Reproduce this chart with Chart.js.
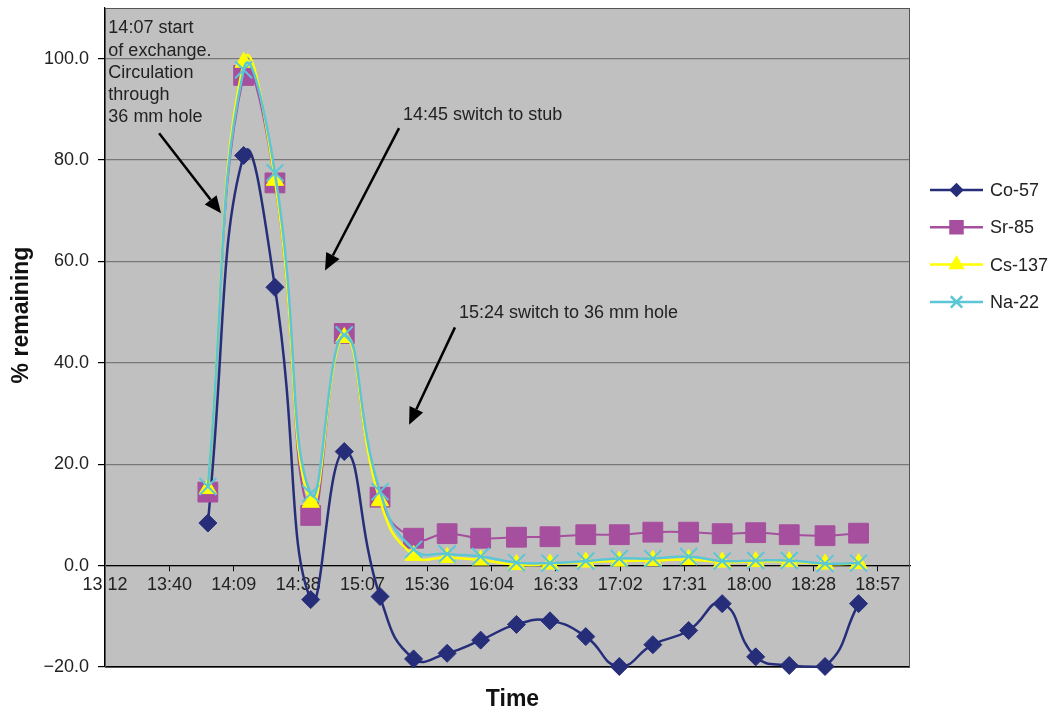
<!DOCTYPE html>
<html>
<head>
<meta charset="utf-8">
<script src="https://cdn.jsdelivr.net/npm/chart.js@4.4.1/dist/chart.umd.min.js"></script>
<style>
  html, body { margin: 0; padding: 0; background: #fff; }
  #wrap { width: 1051px; height: 713px; }
</style>
</head>
<body>
<div id="wrap"><canvas id="chart"></canvas></div>
<script>
// sample times (h:mm) and % remaining per isotope
const sampleTimes = ["13:58", "14:14", "14:28", "14:44", "14:59", "15:15", "15:30", "15:45", "16:00", "16:16",
                     "16:31", "16:47", "17:02", "17:17", "17:33", "17:48", "18:03", "18:18", "18:34", "18:49"];
const co57 = [8.4, 80.9, 54.9, -6.7, 22.5, -6.1, -18.4, -17.3, -14.7, -11.6,
              -10.9, -14.0, -19.9, -15.6, -12.8, -7.5, -18.0, -19.7, -19.9, -7.5];
const sr85 = [14.5, 96.7, 75.5, 9.9, 45.8, 13.5, 5.4, 6.3, 5.4, 5.6,
              5.7, 6.1, 6.1, 6.6, 6.6, 6.3, 6.5, 6.1, 5.9, 6.4];
const cs137 = [15.2, 99.3, 76.0, 12.5, 45.0, 12.8, 2.0, 1.6, 1.1, 0.2,
               0.3, 0.7, 0.9, 1.0, 1.2, 0.7, 0.8, 0.8, 0.3, 0.4];
const na22 = [15.6, 97.8, 77.5, 14.2, 45.5, 14.6, 3.2, 2.3, 1.8, 0.6,
              0.5, 0.9, 1.4, 1.4, 1.8, 0.9, 1.0, 1.0, 0.4, 0.5];

const xTickLabels = ["13:12", "13:40", "14:09", "14:38", "15:07", "15:36", "16:04",
                     "16:33", "17:02", "17:31", "18:00", "18:28", "18:57"];
const yTickValues = [-20, 0, 20, 40, 60, 80, 100];

const FONT = 'Arial, "Liberation Sans", Helvetica, sans-serif';
const X_MIN = 792;     // 13:12 in minutes
const X_STEP = 28.8;   // Excel major unit 0.02 day
const X_MAX = 1152;    // 19:12

function toMinutes(hhmm) {
    const [h, m] = hhmm.split(":").map(Number);
    return h * 60 + m;
}

function series(values) {
    return values.map((v, i) => ({ x: toMinutes(sampleTimes[i]), y: v }));
}

// annotation text + arrows, anchored in data units
const notes = [
    { lines: ["14:07 start", "of exchange.", "Circulation", "through", "36 mm hole"], x: 793.5, y: 106 },
    { lines: ["14:45 switch to stub"], x: 925.3, y: 88.8 },
    { lines: ["15:24 switch to 36 mm hole"], x: 950.3, y: 49.8 }
];
const arrows = [
    { from: [816.2, 85.3], to: [843.9, 69.5] },
    { from: [923.5, 86.3], to: [890.4, 58.2] },
    { from: [948.5, 47.0], to: [928.0, 27.8] }
];

Chart.defaults.font.family = FONT;
Chart.defaults.font.size = 18;
Chart.defaults.color = "#222";

const plotBackground = {
    id: "plotBackground",
    beforeDraw(chart) {
        const { ctx, chartArea: a } = chart;
        ctx.save();
        ctx.fillStyle = "#C0C0C0";
        ctx.fillRect(a.left, a.top, a.right - a.left, a.bottom - a.top);
        ctx.restore();
    },
    beforeDatasetsDraw(chart) {
        const { ctx, chartArea: a } = chart;
        ctx.save();
        ctx.strokeStyle = "#555";
        ctx.lineWidth = 1;
        ctx.strokeRect(a.left + 0.5, a.top + 0.5, a.right - a.left - 1, a.bottom - a.top);
        ctx.restore();
    }
};

const notesPlugin = {
    id: "notesPlugin",
    afterDatasetsDraw(chart) {
        const { ctx, scales: { x, y } } = chart;
        ctx.save();
        ctx.fillStyle = "#222";
        ctx.font = "18px " + FONT;
        ctx.textAlign = "left";
        ctx.textBaseline = "middle";
        notes.forEach(n => {
            const px = x.getPixelForValue(n.x);
            const py = y.getPixelForValue(n.y);
            n.lines.forEach((line, i) => ctx.fillText(line, px, py + i * 22.3));
        });

        ctx.strokeStyle = "#000";
        ctx.fillStyle = "#000";
        ctx.lineWidth = 2.5;
        arrows.forEach(a => {
            const x0 = x.getPixelForValue(a.from[0]), y0 = y.getPixelForValue(a.from[1]);
            const x1 = x.getPixelForValue(a.to[0]), y1 = y.getPixelForValue(a.to[1]);
            const ang = Math.atan2(y1 - y0, x1 - x0);
            const head = 17, half = 7.5;
            const bx = x1 - head * Math.cos(ang), by = y1 - head * Math.sin(ang);
            ctx.beginPath();
            ctx.moveTo(x0, y0);
            ctx.lineTo(bx, by);
            ctx.stroke();
            ctx.beginPath();
            ctx.moveTo(x1, y1);
            ctx.lineTo(bx + half * Math.sin(ang), by - half * Math.cos(ang));
            ctx.lineTo(bx - half * Math.sin(ang), by + half * Math.cos(ang));
            ctx.closePath();
            ctx.fill();
        });
        ctx.restore();
    }
};

// Excel-style legend: line segment with marker, and the titles
const sideLegend = {
    id: "sideLegend",
    afterDraw(chart) {
        const { ctx, chartArea: a } = chart;
        const sizes = { rectRot: 5.5, rect: 8.5, triangle: 7, crossRot: 8 };
        ctx.save();
        chart.data.datasets.forEach((ds, i) => {
            const yy = 190 + i * 37.3;
            const x0 = a.right + 20, x1 = a.right + 73;
            ctx.strokeStyle = ds.borderColor;
            ctx.lineWidth = 2.5;
            ctx.beginPath();
            ctx.moveTo(x0, yy);
            ctx.lineTo(x1, yy);
            ctx.stroke();
            ctx.fillStyle = ds.backgroundColor;
            Chart.helpers.drawPoint(ctx, {
                pointStyle: ds.pointStyle,
                radius: sizes[ds.pointStyle],
                rotation: 0,
                borderWidth: ds.pointStyle === "crossRot" ? 2 : 1
            }, (x0 + x1) / 2, yy);
            ctx.fillStyle = "#222";
            ctx.font = "18px " + FONT;
            ctx.textAlign = "left";
            ctx.textBaseline = "middle";
            ctx.fillText(ds.label, x1 + 7, yy + 1);
        });

        ctx.font = "bold 23px " + FONT;
        ctx.fillStyle = "#111";
        ctx.textAlign = "center";
        ctx.textBaseline = "middle";
        ctx.fillText("Time", (a.left + a.right) / 2 + 5, a.bottom + 33);
        ctx.translate(22, 315);
        ctx.rotate(-Math.PI / 2);
        ctx.fillText("% remaining", 0, 0);
        ctx.restore();
    }
};

const ctx = document.getElementById("chart").getContext("2d");

new Chart(ctx, {
    type: "line",
    data: {
        datasets: [
            {
                label: "Co-57", data: series(co57),
                borderColor: "#262E7A", backgroundColor: "#262E7A",
                pointStyle: "rectRot", pointRadius: 9, pointBorderWidth: 1,
                borderWidth: 2.5, tension: 0.5, order: 4
            },
            {
                label: "Sr-85", data: series(sr85),
                borderColor: "#A64F9E", backgroundColor: "#A64F9E",
                pointStyle: "rect", pointRadius: 14, pointBorderWidth: 1,
                borderWidth: 2, tension: 0.5, order: 3
            },
            {
                label: "Cs-137", data: series(cs137),
                borderColor: "#FFFF00", backgroundColor: "#FFFF00",
                pointStyle: "triangle", pointRadius: 10, pointBorderWidth: 1,
                borderWidth: 2.5, tension: 0.5, order: 2
            },
            {
                label: "Na-22", data: series(na22),
                borderColor: "#5CC6D6", backgroundColor: "#5CC6D6",
                pointStyle: "crossRot", pointRadius: 12, pointBorderWidth: 2,
                borderWidth: 2.5, tension: 0.5, order: 1
            }
        ]
    },
    options: {
        responsive: true,
        maintainAspectRatio: false,
        animation: false,
        clip: false,
        layout: { autoPadding: false, padding: { left: 0, right: 141, top: 8, bottom: 46 } },
        plugins: {
            legend: { display: false },
            tooltip: { enabled: false }
        },
        scales: {
            x: {
                type: "linear",
                min: X_MIN,
                max: X_MAX,
                position: { y: 0 },
                afterBuildTicks: (scale) => {
                    scale.ticks = xTickLabels.map((l, i) => ({ value: X_MIN + i * X_STEP }));
                },
                afterFit: (scale) => {
                    scale.height = 0;
                    scale.paddingLeft = 0;
                    scale.paddingRight = 0;
                },
                ticks: {
                    autoSkip: false,
                    maxRotation: 0,
                    padding: 4,
                    color: "#222",
                    callback: (v, i) => xTickLabels[i]
                },
                grid: { drawOnChartArea: false, tickLength: 5, tickColor: "#000", tickWidth: 1 },
                border: { color: "#000", width: 1.2 }
            },
            y: {
                min: -20,
                max: 110,
                afterBuildTicks: (scale) => {
                    scale.ticks = yTickValues.map(v => ({ value: v }));
                },
                afterFit: (scale) => {
                    scale.width = 105;
                    scale.paddingTop = 0;
                    scale.paddingBottom = 0;
                },
                ticks: {
                    padding: 9,
                    color: "#222",
                    callback: (v) => v < 0 ? "\u2212" + Math.abs(v).toFixed(1) : v.toFixed(1)
                },
                grid: {
                    color: (c) => (c.tick && c.tick.value === -20) ? "#000" : "#777",
                    tickColor: "#000",
                    tickLength: 7,
                    lineWidth: 1.2
                },
                border: { color: "#000", width: 1.2 }
            }
        }
    },
    plugins: [plotBackground, notesPlugin, sideLegend]
});
</script>
</body>
</html>
